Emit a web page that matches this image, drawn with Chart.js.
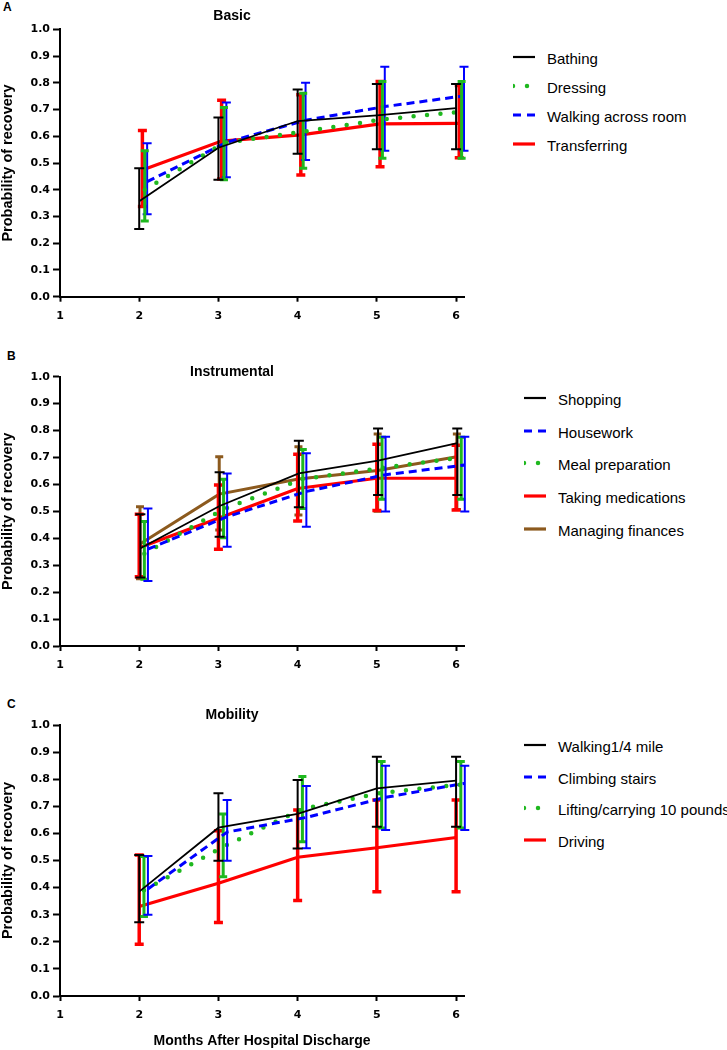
<!DOCTYPE html>
<html><head><meta charset="utf-8">
<script src="https://cdn.jsdelivr.net/npm/chart.js@4.4.0/dist/chart.umd.min.js"></script>
<style>
html,body{margin:0;padding:0;background:#fff;}
body{width:727px;height:1050px;position:relative;overflow:hidden;font-family:"Liberation Sans",Arial,sans-serif;color:#000;}
canvas{position:absolute;left:0;}
.plabel{position:absolute;font-weight:bold;font-size:12px;line-height:12px;}
.leg{position:absolute;height:20px;width:220px;}
.leg svg{position:absolute;left:0;top:0;overflow:hidden;}
.leg span{position:absolute;font-size:15px;line-height:20px;top:2px;white-space:nowrap;}
</style></head><body>
<div class="plabel" style="left:3px;top:0.5px">A</div>
<div class="plabel" style="left:7px;top:349.5px">B</div>
<div class="plabel" style="left:7px;top:697.5px">C</div>
<canvas id="cA" width="470" height="330" style="top:0px"></canvas>
<canvas id="cB" width="470" height="345" style="top:330px"></canvas>
<canvas id="cC" width="470" height="375" style="top:675px"></canvas>
<div id="legends"></div>
<script>
// ---------- data ----------
const months = [2, 3, 4, 5, 6];
const xTicks = [1, 2, 3, 4, 5, 6];
const yTicks = [0, 0.1, 0.2, 0.3, 0.4, 0.5, 0.6, 0.7, 0.8, 0.9, 1.0];

// Panel A: Basic
const bathing      = [0.357, 0.557, 0.657, 0.678, 0.705];
const bathingLow   = [0.253, 0.437, 0.535, 0.551, 0.551];
const bathingHigh  = [0.480, 0.670, 0.775, 0.795, 0.795];
const dressing     = [0.400, 0.575, 0.617, 0.663, 0.692];
const dressingLow  = [0.283, 0.437, 0.480, 0.518, 0.518];
const dressingHigh = [0.546, 0.708, 0.761, 0.805, 0.805];
const walkRoom     = [0.430, 0.577, 0.660, 0.711, 0.751];
const walkRoomLow  = [0.308, 0.447, 0.511, 0.546, 0.546];
const walkRoomHigh = [0.574, 0.726, 0.800, 0.860, 0.860];
const transfer     = [0.474, 0.582, 0.605, 0.646, 0.648];
const transferLow  = [0.337, 0.440, 0.455, 0.486, 0.520];
const transferHigh = [0.622, 0.735, 0.755, 0.805, 0.790];

// Panel B: Instrumental
const shopping      = [0.363, 0.520, 0.641, 0.688, 0.753];
const shoppingLow   = [0.254, 0.406, 0.515, 0.561, 0.561];
const shoppingHigh  = [0.489, 0.645, 0.762, 0.808, 0.808];
const housework     = [0.360, 0.480, 0.574, 0.636, 0.672];
const houseworkLow  = [0.241, 0.369, 0.443, 0.499, 0.499];
const houseworkHigh = [0.511, 0.641, 0.716, 0.777, 0.777];
const mealPrep      = [0.343, 0.508, 0.620, 0.661, 0.700];
const mealPrepLow   = [0.248, 0.402, 0.511, 0.545, 0.545];
const mealPrepHigh  = [0.462, 0.619, 0.730, 0.775, 0.775];
const medications     = [0.365, 0.474, 0.585, 0.623, 0.623];
const medicationsLow  = [0.257, 0.359, 0.464, 0.503, 0.505];
const medicationsHigh = [0.489, 0.598, 0.712, 0.749, 0.745];
const finances      = [0.379, 0.564, 0.620, 0.652, 0.703];
const financesLow   = [0.250, 0.431, 0.486, 0.500, 0.507];
const financesHigh  = [0.517, 0.703, 0.740, 0.787, 0.787];

// Panel C: Mobility
const walkMile      = [0.385, 0.621, 0.672, 0.766, 0.795];
const walkMileLow   = [0.272, 0.499, 0.544, 0.625, 0.625];
const walkMileHigh  = [0.520, 0.748, 0.797, 0.883, 0.883];
const stairs        = [0.395, 0.605, 0.659, 0.733, 0.785];
const stairsLow     = [0.300, 0.499, 0.545, 0.613, 0.613];
const stairsHigh    = [0.517, 0.723, 0.775, 0.850, 0.850];
const lifting       = [0.390, 0.551, 0.690, 0.750, 0.780];
const liftingLow    = [0.293, 0.440, 0.569, 0.620, 0.620];
const liftingHigh   = [0.515, 0.672, 0.810, 0.865, 0.865];
const driving       = [0.330, 0.416, 0.512, 0.547, 0.585];
const drivingLow    = [0.191, 0.271, 0.352, 0.385, 0.385];
const drivingHigh   = [0.520, 0.610, 0.686, 0.723, 0.723];

// ---------- styles ----------
const STY = {
  black: {color:'#000000', width:1.8, dash:[],      cap:'butt',  barW:2,   capW:10},
  green: {color:'#1fb81f', width:4.5, dash:[0,13.5], cap:'round', barW:3,   capW:8},
  blue:  {color:'#0000ff', width:3,   dash:[8,5],    cap:'butt',  barW:2,   capW:9},
  red:   {color:'#ff0000', width:3.2, dash:[],       cap:'butt',  barW:3.5, capW:9},
  brown: {color:'#8c5a1e', width:3,   dash:[],       cap:'butt',  barW:3,   capW:8}
};

const panels = [
  {canvas:'cA', top:0, title:'Basic', titlePad:{top:7.6,bottom:4.9}, xScaleH:33.3, xTitle:false,
   legendX:513, textX:547, legendY:[56.7, 85.8, 114.9, 144],
   series:[
    {label:'Bathing', mean:bathing, low:bathingLow, high:bathingHigh, style:'black', dodge:0},
    {label:'Dressing', mean:dressing, low:dressingLow, high:dressingHigh, style:'green', dodge:0.07},
    {label:'Walking across room', mean:walkRoom, low:walkRoomLow, high:walkRoomHigh, style:'blue', dodge:0.10},
    {label:'Transferring', mean:transfer, low:transferLow, high:transferHigh, style:'red', dodge:0.04}
   ]},
  {canvas:'cB', top:330, title:'Instrumental', titlePad:{top:33.3,bottom:-3.4}, xScaleH:29, xTitle:false,
   legendX:524, textX:558, legendY:[397.7, 430.5, 463.3, 496.1, 528.9],
   series:[
    {label:'Shopping', mean:shopping, low:shoppingLow, high:shoppingHigh, style:'black', dodge:0.015},
    {label:'Housework', mean:housework, low:houseworkLow, high:houseworkHigh, style:'blue', dodge:0.11},
    {label:'Meal preparation', mean:mealPrep, low:mealPrepLow, high:mealPrepHigh, style:'green', dodge:0.065},
    {label:'Taking medications', mean:medications, low:medicationsLow, high:medicationsHigh, style:'red', dodge:0},
    {label:'Managing finances', mean:finances, low:financesLow, high:financesHigh, style:'brown', dodge:0.01}
   ]},
  {canvas:'cC', top:675, title:'Mobility', titlePad:{top:31.6,bottom:1.6}, xScaleH:54, xTitle:true,
   legendX:524, textX:558, legendY:[745, 776.7, 808.3, 840],
   series:[
    {label:'Walking1/4 mile', mean:walkMile, low:walkMileLow, high:walkMileHigh, style:'black', dodge:0},
    {label:'Climbing stairs', mean:stairs, low:stairsLow, high:stairsHigh, style:'blue', dodge:0.11},
    {label:'Lifting/carrying 10 pounds', mean:lifting, low:liftingLow, high:liftingHigh, style:'green', dodge:0.06},
    {label:'Driving', mean:driving, low:drivingLow, high:drivingHigh, style:'red', dodge:0}
   ]}
];

// ---------- error bar plugin ----------
const errorBars = {
  id: 'errorBars',
  beforeDatasetDraw(chart, args) {
    const ds = chart.data.datasets[args.index];
    if (!ds.errLow) return;
    const xs = chart.scales.x, ys = chart.scales.y, ctx = chart.ctx;
    const st = ds.errStyle;
    ctx.save();
    ctx.strokeStyle = st.color;
    ctx.lineWidth = st.barW;
    ctx.setLineDash([]);
    ctx.lineCap = 'butt';
    ds.data.forEach((p, i) => {
      const x = xs.getPixelForValue(p.x);
      const y1 = ys.getPixelForValue(ds.errLow[i]);
      const y2 = ys.getPixelForValue(ds.errHigh[i]);
      const h = st.capW / 2;
      ctx.beginPath();
      ctx.moveTo(x, y1); ctx.lineTo(x, y2);
      ctx.moveTo(x - h, y1); ctx.lineTo(x + h, y1);
      ctx.moveTo(x - h, y2); ctx.lineTo(x + h, y2);
      ctx.stroke();
    });
    ctx.restore();
  }
};

const tickFont = {family:'DejaVu Sans', size:11, weight:'bold'};

panels.forEach(p => {
  const datasets = p.series.map(s => {
    const st = STY[s.style];
    return {
      label: s.label,
      data: months.map((m, i) => ({x: m + s.dodge, y: s.mean[i]})),
      errLow: s.low, errHigh: s.high, errStyle: st,
      borderColor: st.color, backgroundColor: st.color,
      borderWidth: st.width, borderDash: st.dash, borderCapStyle: st.cap,
      pointRadius: 0, pointHoverRadius: 0, fill: false, tension: 0
    };
  });
  new Chart(document.getElementById(p.canvas), {
    type: 'line',
    data: {datasets},
    plugins: [errorBars],
    options: {
      responsive: false, animation: false, events: [],
      layout: {padding: {left:0, right:6, top:0, bottom:0}},
      plugins: {
        legend: {display:false}, tooltip: {enabled:false},
        title: {display:true, text:p.title, color:'#000',
                font:{family:'Liberation Sans', size:14, weight:'bold'}, padding:p.titlePad}
      },
      scales: {
        x: {
          type:'linear', min:1, max:6.1,
          afterBuildTicks: s => { s.ticks = xTicks.map(v => ({value:v})); },
          afterFit: s => { s.height = p.xScaleH; },
          grid: {display:true, drawOnChartArea:false, drawTicks:true, tickLength:5, tickWidth:2, tickColor:'#000'},
          border: {display:true, color:'#000', width:2},
          ticks: {color:'#000', font:tickFont, padding:7.5, maxRotation:0, autoSkip:false, callback: v => String(v)},
          title: {display:p.xTitle, text:'Months After Hospital Discharge', color:'#000',
                  font:{family:'Liberation Sans', size:14, weight:'bold'}, padding:{top:0, bottom:0.6}}
        },
        y: {
          type:'linear', min:0, max:1,
          afterBuildTicks: s => { s.ticks = yTicks.map(v => ({value:v})); },
          afterFit: s => { s.width = 60; },
          grid: {display:true, drawOnChartArea:false, drawTicks:true, tickLength:7, tickWidth:2, tickColor:'#000'},
          border: {display:true, color:'#000', width:2},
          ticks: {color:'#000', font:tickFont, padding:3, callback: v => Number(v).toFixed(1)},
          title: {display:true, text:'Probability of recovery', color:'#000',
                  font:{family:'Liberation Sans', size:14.5, weight:'bold', lineHeight:1}, padding:{top:0.75, bottom:0}}
        }
      }
    }
  });

  // HTML legend
  const host = document.getElementById('legends');
  p.series.forEach((s, i) => {
    const st = STY[s.style];
    const row = document.createElement('div');
    row.className = 'leg';
    row.style.left = p.legendX + 'px';
    row.style.top = (p.legendY[i] - 10) + 'px';
    const dash = st.dash.length ? (st.cap === 'round' ? '0 14' : '8 6') : 'none';
    row.innerHTML =
      '<svg width="22" height="20"><line x1="0" y1="10" x2="22" y2="10" stroke="' + st.color +
      '" stroke-width="' + (st.cap === 'round' ? 4.5 : (s.style === 'black' ? 2.2 : 3.2)) +
      '" stroke-dasharray="' + dash + '" stroke-linecap="' + st.cap + '"/></svg>' +
      '<span style="left:' + (p.textX - p.legendX) + 'px"></span>';
    row.querySelector('span').textContent = s.label;
    host.appendChild(row);
  });
});
</script>
</body></html>
